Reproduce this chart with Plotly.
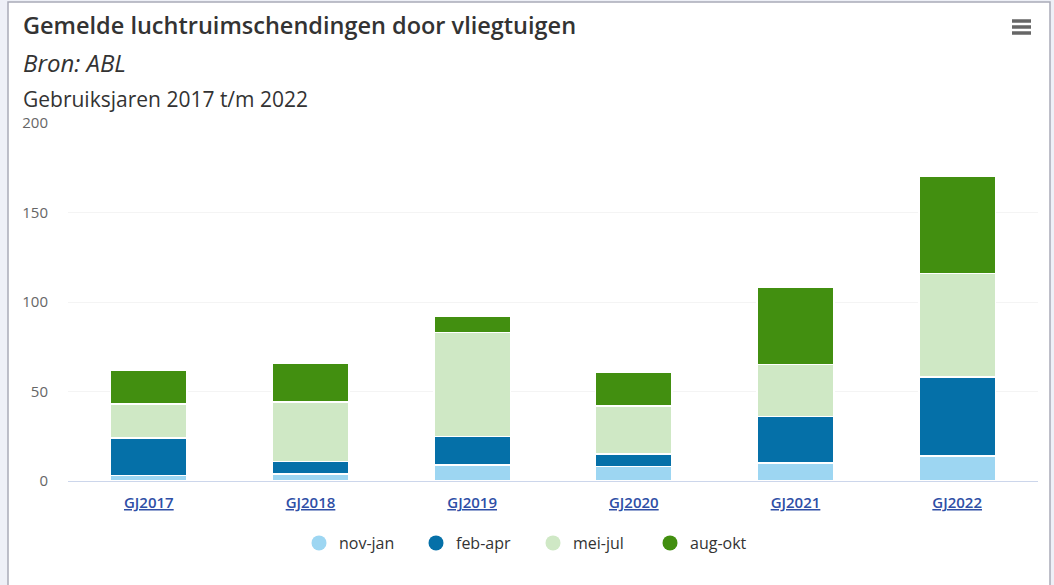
import plotly.graph_objects as go

categories = ["GJ2017", "GJ2018", "GJ2019", "GJ2020", "GJ2021", "GJ2022"]
series_names = ["nov-jan", "feb-apr", "mei-jul", "aug-okt"]
nov_jan = [3, 4, 9, 8, 10, 14]
feb_apr = [21, 7, 16, 7, 26, 44]
mei_jul = [19, 33, 58, 27, 29, 58]
aug_okt = [19, 22, 9, 19, 43, 54]
colors = ["#9dd6f2", "#0570a8", "#cfe8c5", "#428f10"]
y_ticks = [0, 50, 100, 150, 200]

W, H = 1054, 585
ML, MR, MT, MB = 68, 16, 123, 104
PW, PH = W - ML - MR, H - MT - MB

def px(x):
    return (x - ML) / PW

def py(y):
    return (H - MB - y) / PH

fig = go.Figure()
tick_text = [f"<u>{c}</u>" for c in categories]
for name, vals, col in zip(series_names, [nov_jan, feb_apr, mei_jul, aug_okt], colors):
    fig.add_trace(go.Bar(
        x=categories, y=vals, name=name, marker_color=col,
        marker_line_color="white", marker_line_width=1.5,
        showlegend=False,
    ))
for name, col in zip(series_names, colors):
    fig.add_trace(go.Scatter(
        x=[None], y=[None], mode="markers", name=name,
        marker=dict(symbol="circle", size=15, color=col),
        showlegend=True,
    ))

fig.update_layout(
    width=W, height=H,
    barmode="stack", bargap=0.525,
    margin=dict(l=ML, r=MR, t=MT, b=MB),
    paper_bgcolor="white", plot_bgcolor="white",
    font=dict(family="Open Sans, DejaVu Sans, sans-serif", color="#333333"),
    xaxis=dict(
        tickmode="array", tickvals=categories, ticktext=tick_text,
        tickfont=dict(size=15, color="#2f4fa6", weight=600),
        showgrid=False, showline=True, linecolor="#ccd6eb", linewidth=1,
        ticks="", range=[-0.5, 5.5], fixedrange=True, ticklabelstandoff=8,
    ),
    yaxis=dict(
        range=[0, 200], tickvals=y_ticks,
        tickfont=dict(size=15, color="#666666"),
        showgrid=True, gridcolor="#f4f4f4", gridwidth=1,
        zeroline=False, showline=False, ticklabelstandoff=19,
        fixedrange=True,
    ),
    legend=dict(
        orientation="h", xanchor="center", x=px(533), yanchor="middle", y=py(543),
        font=dict(size=16, color="#333333"), entrywidth=72,
        traceorder="normal",
    ),
    hovermode=False,
)

fig.add_annotation(x=px(21), y=py(25), xref="paper", yref="paper", xanchor="left", yanchor="middle",
                   text="Gemelde luchtruimschendingen door vliegtuigen", showarrow=False,
                   font=dict(size=23.5, color="#333333", weight=600))
fig.add_annotation(x=px(21), y=py(62), xref="paper", yref="paper", xanchor="left", yanchor="middle",
                   text="<i>Bron: ABL</i>", showarrow=False,
                   font=dict(size=24, color="#333333"))
fig.add_annotation(x=px(21), y=py(99), xref="paper", yref="paper", xanchor="left", yanchor="middle",
                   text="Gebruiksjaren 2017 t/m 2022", showarrow=False,
                   font=dict(size=21, color="#333333"))

# outer frame
fig.add_shape(type="rect", xref="paper", yref="paper", x0=px(0), x1=px(W), y0=py(H), y1=py(0),
              fillcolor="#eef0f7", line_width=0, layer="below")
fig.add_shape(type="rect", xref="paper", yref="paper", x0=px(8), x1=px(1050), y0=py(H + 5), y1=py(2),
              fillcolor="white", line=dict(color="#a9abb8", width=1.5), layer="below")
# menu icon
for yy in [21, 27, 33]:
    fig.add_shape(type="line", xref="paper", yref="paper", x0=px(1012), x1=px(1031), y0=py(yy), y1=py(yy),
                  line=dict(color="#666666", width=3.5))

fig.write_html("out.html", config={"displayModeBar": False},
               post_script="document.body.style.margin='0';document.body.style.overflow='hidden';")
